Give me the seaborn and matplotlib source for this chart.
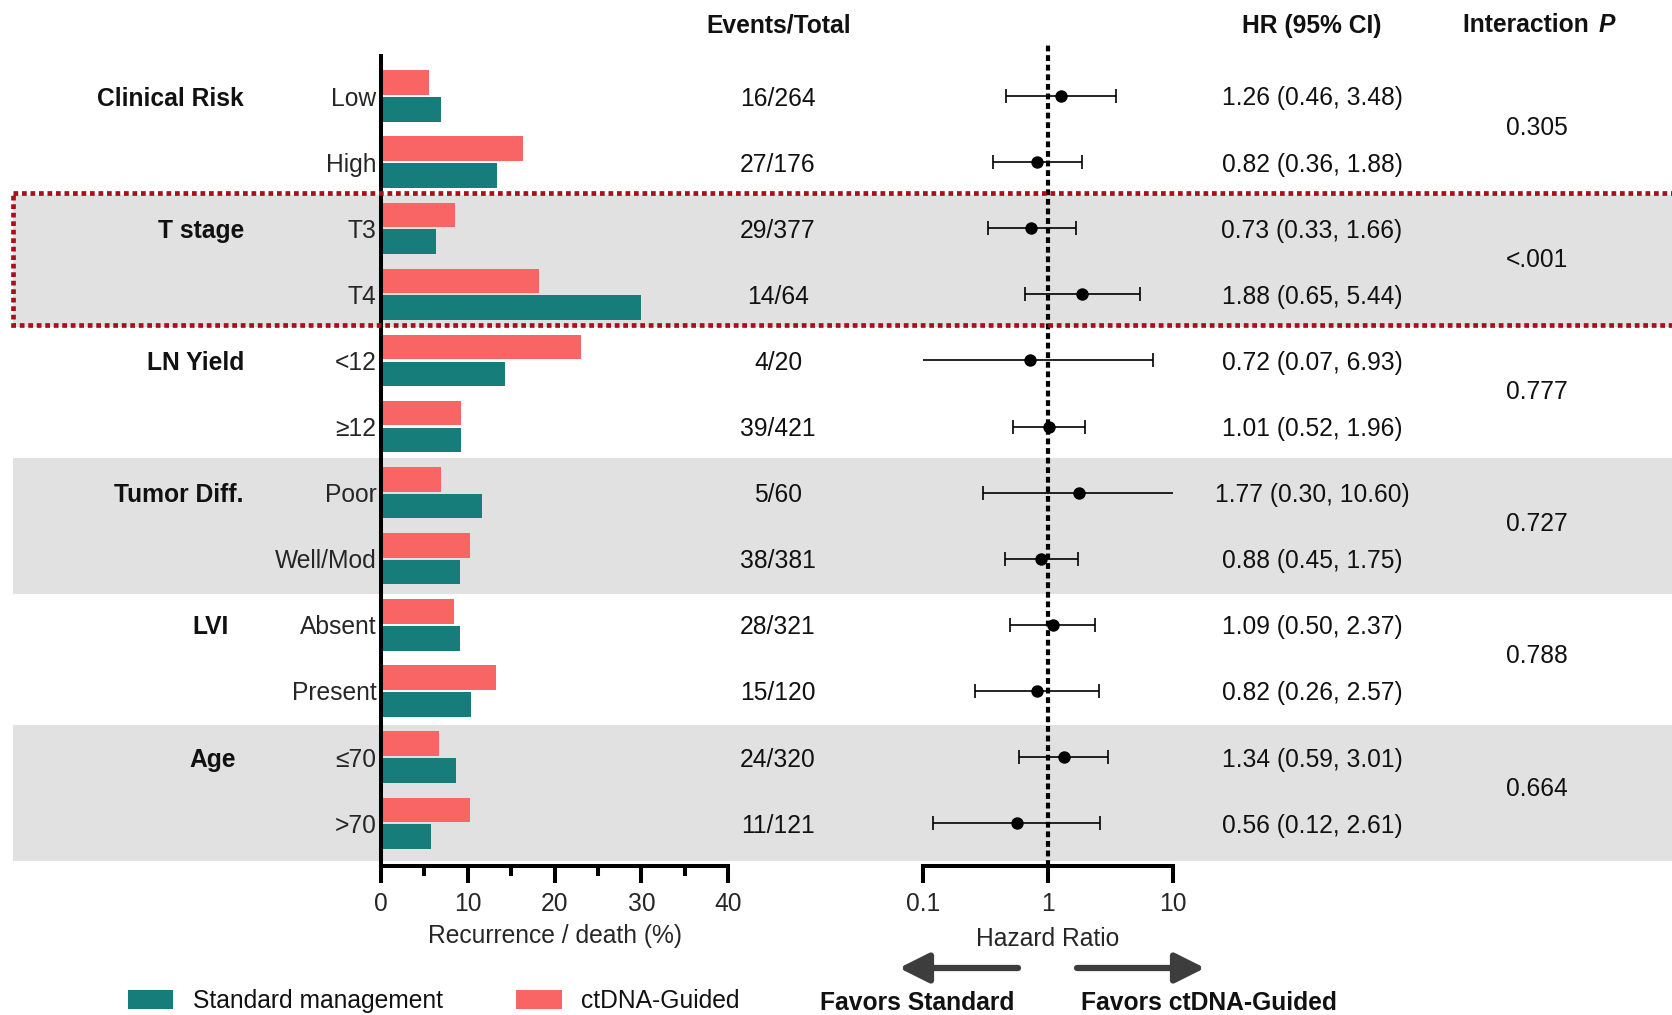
import numpy as np
import pandas as pd
import matplotlib
matplotlib.use("Agg")
import matplotlib.pyplot as plt
import seaborn as sns
from matplotlib.patches import Rectangle, FancyArrowPatch
from matplotlib.ticker import FixedLocator, NullLocator

# ---------------- data ----------------
groups = ["Clinical Risk", "T stage", "LN Yield", "Tumor Diff.", "LVI", "Age"]
subgroups = ["Low", "High", "T3", "T4", "<12", "\u226512",
             "Poor", "Well/Mod", "Absent", "Present", "\u226470", ">70"]
standard_pct = [6.9, 13.4, 6.4, 30.0, 14.3, 9.2, 11.7, 9.1, 9.1, 10.4, 8.7, 5.8]
ctdna_pct = [5.6, 16.4, 8.5, 18.2, 23.1, 9.2, 6.9, 10.3, 8.4, 13.3, 6.7, 10.3]
events_total = ["16/264", "27/176", "29/377", "14/64", "4/20", "39/421",
                "5/60", "38/381", "28/321", "15/120", "24/320", "11/121"]
hr = [1.26, 0.82, 0.73, 1.88, 0.72, 1.01, 1.77, 0.88, 1.09, 0.82, 1.34, 0.56]
ci_low = [0.46, 0.36, 0.33, 0.65, 0.07, 0.52, 0.30, 0.45, 0.50, 0.26, 0.59, 0.12]
ci_high = [3.48, 1.88, 1.66, 5.44, 6.93, 1.96, 10.60, 1.75, 2.37, 2.57, 3.01, 2.61]
p_interaction = ["0.305", "<.001", "0.777", "0.727", "0.788", "0.664"]
arms = ["ctDNA-Guided", "Standard management"]

# ---------------- style ----------------
TEAL = "#177d7a"
SALMON = "#f96565"
BAND = "#e1e1e1"
BOX_RED = "#a8101c"
FS = 17.7

sns.set_theme(style="white")
plt.rcParams["font.family"] = ["Liberation Sans", "DejaVu Sans"]
plt.rcParams["text.color"] = "#111111"

W, H = 1672, 1015
fig = plt.figure(figsize=(W / 100, H / 100), dpi=100)


def fx(px):
    return px / W


def fy(py):
    return 1 - py / H


# shared vertical layout: row index as data coordinate
row0_px, row_step = 96.0, 66.11
top_px, bottom_px = 55.5, 866.0
y_top = -(row0_px - top_px) / row_step
y_bot = (bottom_px - row0_px) / row_step
ax_b, ax_h = fy(bottom_px), (bottom_px - top_px) / H
rows = np.arange(len(subgroups))

# background axes spanning full width (x in pixels)
ax_bg = fig.add_axes([0, ax_b, 1, ax_h], zorder=0)
ax_bg.set_xlim(0, W)
ax_bg.set_ylim(y_bot, y_top)
ax_bg.axis("off")

for y0, y1 in [(1.49, 3.49), (5.48, 7.53), (9.52, 11.57)]:
    ax_bg.axhspan(y0, y1, xmin=fx(12.8), xmax=1, color=BAND, lw=0, zorder=0)

# ---------------- bar panel ----------------
df = pd.DataFrame({
    "subgroup": subgroups * 2,
    "pct": ctdna_pct + standard_pct,
    "arm": [arms[0]] * len(subgroups) + [arms[1]] * len(subgroups),
})

ax_bar = fig.add_axes([fx(380.7), ax_b, fx(728.3) - fx(380.7), ax_h], zorder=2)
sns.barplot(data=df, x="pct", y="subgroup", hue="arm", hue_order=arms,
            order=subgroups, orient="h", palette={arms[0]: SALMON, arms[1]: TEAL},
            saturation=1, width=0.81, gap=0.08, linewidth=0, ax=ax_bar)
ax_bar.set_facecolor("none")
ax_bar.set_xlim(0, 40)
ax_bar.set_ylim(y_bot, y_top)
for s in ["top", "right"]:
    ax_bar.spines[s].set_visible(False)
for s in ["left", "bottom"]:
    ax_bar.spines[s].set_linewidth(2.9)
    ax_bar.spines[s].set_color("black")
ax_bar.xaxis.set_major_locator(FixedLocator([0, 10, 20, 30, 40]))
ax_bar.xaxis.set_minor_locator(FixedLocator([5, 15, 25, 35]))
ax_bar.tick_params(axis="x", which="major", length=12, width=2.9, pad=7,
                   labelsize=FS, direction="out", bottom=True, color="black")
ax_bar.tick_params(axis="x", which="minor", length=7, width=2.9,
                   direction="out", bottom=True, color="black")
ax_bar.tick_params(axis="y", length=0, pad=3, labelsize=FS)
ax_bar.set_ylabel("")
ax_bar.set_xlabel("Recurrence / death (%)", fontsize=FS, labelpad=5.5)
handles, labels = ax_bar.get_legend_handles_labels()
ax_bar.get_legend().remove()

# ---------------- forest panel ----------------
ax_hr = fig.add_axes([fx(923), ax_b, fx(1173) - fx(923), ax_h], zorder=2)
ax_hr.set_facecolor("none")
ax_hr.set_xscale("log")
ax_hr.set_xlim(0.1, 10)
ax_hr.set_ylim(y_bot, y_top)
hr_arr = np.array(hr)
xerr = [hr_arr - np.array(ci_low), np.array(ci_high) - hr_arr]
ax_hr.errorbar(hr_arr, rows, xerr=xerr, fmt="none", ecolor="black",
               elinewidth=1.2, capsize=5, capthick=1.2, zorder=2)
sns.scatterplot(x=hr, y=rows, color="black", s=80, linewidth=0,
                ax=ax_hr, zorder=3, legend=False)
ax_hr.plot([1, 1], [y_bot, -0.806], color="black", lw=3,
           linestyle=(0, (1.4, 0.9)), clip_on=False, zorder=4)
for s in ["top", "right", "left"]:
    ax_hr.spines[s].set_visible(False)
ax_hr.spines["bottom"].set_linewidth(2.9)
ax_hr.spines["bottom"].set_color("black")
ax_hr.xaxis.set_major_locator(FixedLocator([0.1, 1, 10]))
ax_hr.xaxis.set_minor_locator(NullLocator())
ax_hr.set_xticklabels(["0.1", "1", "10"])
ax_hr.tick_params(axis="x", length=12, width=2.9, pad=7, labelsize=FS,
                  direction="out", bottom=True, color="black")
ax_hr.set_yticks([])
ax_hr.set_xlabel("Hazard Ratio", fontsize=FS, labelpad=7.5)
ax_hr.set_ylabel("")

# ---------------- text columns ----------------
group_rows = [0, 2, 4, 6, 8, 10]
group_right = [244, 244, 244, 243, 229, 236]
for g, r, xr in zip(groups, group_rows, group_right):
    ax_bg.text(xr, r, g, ha="right", va="center_baseline", fontsize=FS,
               fontweight="bold")

for r, et in zip(rows, events_total):
    ax_bg.text(778, r, et, ha="center", va="center_baseline", fontsize=FS)
for r, h, lo, hi in zip(rows, hr, ci_low, ci_high):
    ax_bg.text(1312, r, f"{h:.2f} ({lo:.2f}, {hi:.2f})", ha="center",
               va="center_baseline", fontsize=FS)
for r, p in zip(group_rows, p_interaction):
    ax_bg.text(1537, r + 0.44, p, ha="center", va="center_baseline", fontsize=FS)

# column headers
hdr_y = fy(23)
fig.text(fx(779), hdr_y, "Events/Total", ha="center", va="center_baseline",
         fontsize=FS, fontweight="bold")
fig.text(fx(1312), hdr_y, "HR (95% CI)", ha="center", va="center_baseline",
         fontsize=FS, fontweight="bold")
fig.text(fx(1596), hdr_y, "Interaction ", ha="right", va="center_baseline",
         fontsize=FS, fontweight="bold")
fig.text(fx(1599), hdr_y, "P", ha="left", va="center_baseline",
         fontsize=FS, fontweight="bold", fontstyle="italic")

# highlighted subgroup frame
frame = Rectangle((12.8, 1.47), 1700, 1.99, transform=ax_bg.transData,
                  fill=False, edgecolor=BOX_RED, lw=3.4,
                  linestyle=(0, (1, 0.8)), clip_on=False, zorder=5)
fig.add_artist(frame)

# direction arrows
arrow_y = fy(968)
arrow_kw = dict(arrowstyle="-|>,head_length=0.9,head_width=0.45",
                lw=4.5, color="#3d3d3d", mutation_scale=20,
                shrinkA=0, shrinkB=0)
fig.add_artist(FancyArrowPatch((fx(1018), arrow_y), (fx(899), arrow_y),
                               transform=fig.transFigure, **arrow_kw))
fig.add_artist(FancyArrowPatch((fx(1077), arrow_y), (fx(1205), arrow_y),
                               transform=fig.transFigure, **arrow_kw))
fig.text(fx(917), fy(1000), "Favors Standard", ha="center", va="center_baseline",
         fontsize=FS, fontweight="bold")
fig.text(fx(1209), fy(1000), "Favors ctDNA-Guided", ha="center",
         va="center_baseline", fontsize=FS, fontweight="bold")

# legend (standard arm first)
fig.legend([handles[1], handles[0]], [labels[1], labels[0]],
           loc="center left", bbox_to_anchor=(fx(128), fy(1001)), ncol=2,
           frameon=False, fontsize=FS, handlelength=1.85, handleheight=0.8,
           handletextpad=0.8, columnspacing=2.97, borderpad=0, borderaxespad=0)

fig.savefig("out.png", dpi=100, facecolor="white")
